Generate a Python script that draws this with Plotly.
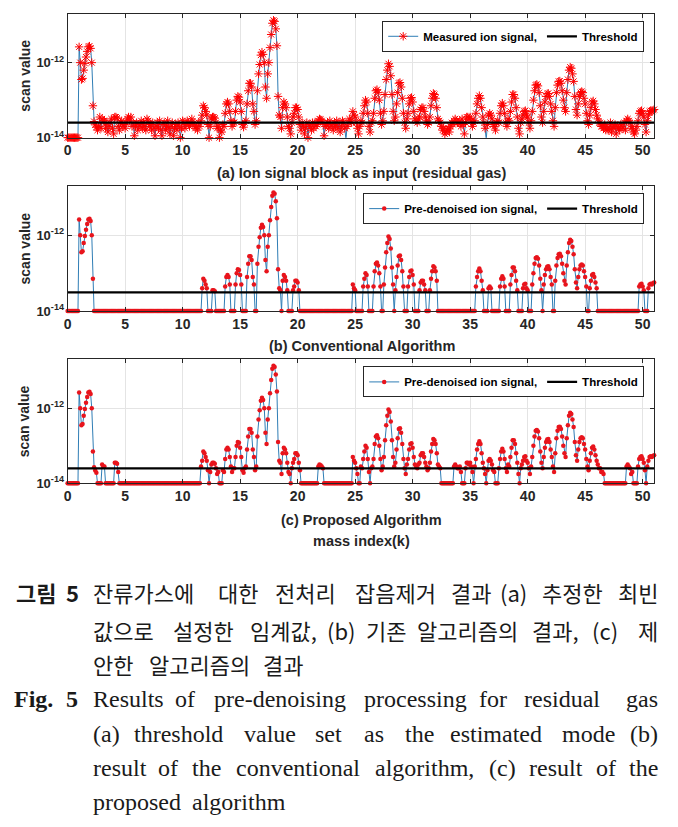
import numpy as np
import plotly.graph_objects as go

# ---------------- data (log10 of scan value, sampled every 0.1 mass unit from 0.0 to 51.0) -------------
mass_start = 0.0
mass_step = 0.1

measured_log = [
    -14, -14, -14, -14, -14, -14, -14, -14, -14, -14,
    -11.58, -12.0, -12.45, -12.42, -12.2, -12.02, -11.85, -11.7, -11.58, -11.56,
    -11.62, -12.0, -13.15, -13.57, -13.66, -13.72, -13.8, -13.7, -13.45, -13.75,
    -13.5, -13.55, -13.55, -13.75, -13.62, -13.85, -13.7, -13.6, -13.5, -13.75,
    -13.9, -13.45, -13.45, -13.48, -13.7, -13.8, -13.6, -13.55, -13.7, -13.65,
    -13.75, -13.6, -13.5, -13.45, -13.55, -13.45, -13.7, -13.6, -13.95, -13.7,
    -13.6, -13.8, -13.65, -13.7, -13.55, -13.75, -13.6, -13.7, -13.8, -13.5,
    -13.55, -13.7, -13.65, -13.8, -13.6, -13.75, -13.95, -13.7, -13.6, -13.75,
    -13.55, -13.8, -13.95, -13.65, -13.6, -13.8, -13.7, -13.55, -13.75, -13.9,
    -13.7, -13.6, -13.95, -13.75, -13.65, -13.8, -13.6, -13.7, -14.0, -13.75,
    -13.55, -13.6, -13.75, -13.65, -13.55, -13.6, -13.7, -13.6, -13.5, -13.65,
    -13.6, -13.75, -13.7, -13.8, -13.6, -13.7, -13.55, -13.4, -13.15, -13.2,
    -13.3, -13.4, -13.65, -14.0, -13.7, -13.5, -13.45, -13.45, -13.48, -13.6,
    -13.75, -13.7, -14.0, -13.8, -13.85, -13.65, -13.7, -13.35, -13.1, -13.05,
    -13.1, -13.3, -13.55, -13.7, -13.6, -13.6, -13.3, -13.0, -12.9, -12.92,
    -13.05, -13.3, -13.65, -13.72, -13.6, -13.55, -13.1, -12.75, -12.55, -12.55,
    -12.65, -13.1, -13.3, -13.65, -13.55, -12.75, -12.3, -12.05, -11.8, -11.72,
    -11.78, -12.0, -12.65, -12.95, -12.3, -12.0, -11.6, -11.25, -10.95, -10.87,
    -10.9, -11.1, -11.55, -12.9, -13.4, -13.45, -13.75, -13.2, -13.05, -13.1,
    -13.2, -13.45, -13.7, -13.75, -13.9, -13.6, -13.45, -13.35, -13.2, -13.2,
    -13.25, -13.45, -13.65, -13.8, -13.6, -13.7, -13.9, -13.75, -13.6, -14.0,
    -13.65, -13.7, -13.8, -13.6, -13.75, -13.6, -13.7, -13.65, -13.55, -13.5,
    -13.52, -13.55, -13.6, -13.95, -13.7, -13.65, -13.6, -13.75, -13.55, -13.7,
    -13.65, -13.8, -13.6, -13.7, -13.55, -13.75, -13.6, -13.85, -13.7, -13.55,
    -13.6, -13.75, -14.05, -13.7, -13.6, -13.5, -13.55, -13.6, -13.3, -13.4,
    -13.45, -13.6, -13.75, -13.9, -13.7, -13.55, -13.6, -13.35, -13.15, -13.0,
    -13.05, -13.35, -13.7, -13.85, -13.6, -13.55, -13.35, -12.95, -12.75, -12.72,
    -12.8, -13.0, -13.35, -13.65, -13.55, -13.3, -12.85, -12.45, -12.2, -12.03,
    -12.1, -12.35, -12.85, -13.3, -13.55, -13.45, -13.1, -12.8, -12.55, -12.53,
    -12.65, -12.95, -13.35, -13.6, -13.75, -13.5, -13.35, -13.1, -12.95, -12.93,
    -13.05, -13.3, -13.5, -13.55, -13.6, -13.5, -13.45, -13.25, -13.2, -13.2,
    -13.3, -13.45, -13.55, -13.65, -13.6, -13.45, -13.15, -12.95, -12.82, -12.85,
    -12.95, -13.2, -13.5, -13.55, -13.6, -13.7, -13.8, -13.75, -13.9, -13.85,
    -13.8, -13.75, -13.85, -13.7, -13.6, -13.65, -13.55, -13.5, -13.55, -13.6,
    -13.6, -13.55, -13.7, -13.5, -13.65, -13.9, -13.6, -13.45, -13.45, -13.5,
    -13.45, -13.55, -13.7, -13.6, -13.55, -13.35, -13.1, -12.95, -12.88, -12.95,
    -13.2, -13.45, -13.6, -13.75, -14.05, -13.65, -13.4, -13.35, -13.4, -13.5,
    -13.65, -13.7, -13.8, -13.6, -13.55, -13.6, -13.35, -13.15, -13.08, -13.15,
    -13.35, -13.6, -13.7, -13.5, -13.55, -13.3, -13.05, -12.85, -12.85, -12.95,
    -13.2, -13.45, -13.75, -13.9, -13.6, -13.5, -13.4, -13.3, -13.28, -13.4,
    -13.45, -13.6, -13.75, -13.55, -13.3, -13.0, -12.75, -12.6, -12.58, -12.62,
    -12.8, -13.15, -13.45, -13.6, -13.3, -13.05, -12.9, -12.83, -12.82, -12.9,
    -13.1, -13.3, -13.55, -13.7, -13.2, -12.8, -12.6, -12.5, -12.49, -12.55,
    -12.75, -13.0, -13.2, -13.3, -12.8, -12.45, -12.2, -12.12, -12.15, -12.3,
    -12.5, -12.9, -13.25, -13.4, -13.1, -12.9, -12.8, -12.77, -12.8, -12.95,
    -13.1, -13.35, -13.55, -13.65, -13.4, -13.2, -13.05, -13.02, -13.1, -13.25,
    -13.4, -13.5, -13.6, -13.6, -13.7, -13.7, -13.75, -13.65, -13.8, -13.7,
    -13.8, -13.75, -13.6, -13.85, -13.7, -13.75, -13.65, -13.9, -13.7, -13.75,
    -13.8, -13.65, -13.7, -13.75, -13.6, -13.8, -13.55, -13.5, -13.55, -13.6,
    -13.75, -13.7, -13.85, -13.9, -13.8, -13.7, -13.55, -13.35, -13.3, -13.28,
    -13.35, -13.45, -13.65, -13.85, -13.55, -13.4, -13.3, -13.28, -13.3, -13.27,
    -13.25,
]

conventional_log = [
    -14, -14, -14, -14, -14, -14, -14, -14, -14, -14,
    -11.58, -12.0, -12.45, -12.42, -12.2, -12.02, -11.85, -11.7, -11.58, -11.56,
    -11.62, -12.0, -13.15, -14, -14, -14, -14, -14, -14, -14,
    -14, -14, -14, -14, -14, -14, -14, -14, -14, -14,
    -14, -14, -14, -14, -14, -14, -14, -14, -14, -14,
    -14, -14, -14, -14, -14, -14, -14, -14, -14, -14,
    -14, -14, -14, -14, -14, -14, -14, -14, -14, -14,
    -14, -14, -14, -14, -14, -14, -14, -14, -14, -14,
    -14, -14, -14, -14, -14, -14, -14, -14, -14, -14,
    -14, -14, -14, -14, -14, -14, -14, -14, -14, -14,
    -14, -14, -14, -14, -14, -14, -14, -14, -14, -14,
    -14, -14, -14, -14, -14, -14, -14, -13.4, -13.15, -13.2,
    -13.3, -13.4, -14, -14, -14, -14, -13.45, -13.45, -13.48, -14,
    -14, -14, -14, -14, -14, -14, -14, -13.35, -13.1, -13.05,
    -13.1, -13.3, -14, -14, -14, -14, -13.3, -13.0, -12.9, -12.92,
    -13.05, -13.3, -14, -14, -14, -14, -13.1, -12.75, -12.55, -12.55,
    -12.65, -13.1, -13.3, -14, -14, -12.75, -12.3, -12.05, -11.8, -11.72,
    -11.78, -12.0, -12.65, -12.95, -12.3, -12.0, -11.6, -11.25, -10.95, -10.87,
    -10.9, -11.1, -11.55, -12.9, -13.4, -13.45, -14, -13.2, -13.05, -13.1,
    -13.2, -13.45, -14, -14, -14, -14, -13.45, -13.35, -13.2, -13.2,
    -13.25, -13.45, -14, -14, -14, -14, -14, -14, -14, -14,
    -14, -14, -14, -14, -14, -14, -14, -14, -14, -14,
    -14, -14, -14, -14, -14, -14, -14, -14, -14, -14,
    -14, -14, -14, -14, -14, -14, -14, -14, -14, -14,
    -14, -14, -14, -14, -14, -14, -14, -14, -13.3, -13.4,
    -13.45, -14, -14, -14, -14, -14, -14, -13.35, -13.15, -13.0,
    -13.05, -13.35, -14, -14, -14, -14, -13.35, -12.95, -12.75, -12.72,
    -12.8, -13.0, -13.35, -14, -14, -13.3, -12.85, -12.45, -12.2, -12.03,
    -12.1, -12.35, -12.85, -13.3, -14, -13.45, -13.1, -12.8, -12.55, -12.53,
    -12.65, -12.95, -13.35, -14, -14, -14, -13.35, -13.1, -12.95, -12.93,
    -13.05, -13.3, -14, -14, -14, -14, -13.45, -13.25, -13.2, -13.2,
    -13.3, -13.45, -14, -14, -14, -13.45, -13.15, -12.95, -12.82, -12.85,
    -12.95, -13.2, -14, -14, -14, -14, -14, -14, -14, -14,
    -14, -14, -14, -14, -14, -14, -14, -14, -14, -14,
    -14, -14, -14, -14, -14, -14, -14, -14, -14, -14,
    -14, -14, -14, -14, -14, -13.35, -13.1, -12.95, -12.88, -12.95,
    -13.2, -13.45, -14, -14, -14, -14, -13.4, -13.35, -13.4, -14,
    -14, -14, -14, -14, -14, -14, -13.35, -13.15, -13.08, -13.15,
    -13.35, -14, -14, -14, -14, -13.3, -13.05, -12.85, -12.85, -12.95,
    -13.2, -13.45, -14, -14, -14, -14, -13.4, -13.3, -13.28, -13.4,
    -13.45, -14, -14, -14, -13.3, -13.0, -12.75, -12.6, -12.58, -12.62,
    -12.8, -13.15, -13.45, -14, -13.3, -13.05, -12.9, -12.83, -12.82, -12.9,
    -13.1, -13.3, -14, -14, -13.2, -12.8, -12.6, -12.5, -12.49, -12.55,
    -12.75, -13.0, -13.2, -13.3, -12.8, -12.45, -12.2, -12.12, -12.15, -12.3,
    -12.5, -12.9, -13.25, -13.4, -13.1, -12.9, -12.8, -12.77, -12.8, -12.95,
    -13.1, -13.35, -14, -14, -13.4, -13.2, -13.05, -13.02, -13.1, -13.25,
    -13.4, -14, -14, -14, -14, -14, -14, -14, -14, -14,
    -14, -14, -14, -14, -14, -14, -14, -14, -14, -14,
    -14, -14, -14, -14, -14, -14, -14, -14, -14, -14,
    -14, -14, -14, -14, -14, -14, -14, -13.35, -13.3, -13.28,
    -13.35, -13.45, -14, -14, -14, -13.4, -13.3, -13.28, -13.3, -13.27,
    -13.25,
]

proposed_log = [
    -14, -14, -14, -14, -14, -14, -14, -14, -14, -14,
    -11.58, -12.0, -12.45, -12.42, -12.2, -12.02, -11.85, -11.7, -11.58, -11.56,
    -11.62, -12.0, -13.15, -13.57, -13.66, -13.72, -14, -14, -14, -14,
    -13.5, -13.55, -13.55, -14, -14, -14, -14, -14, -14, -14,
    -14, -13.45, -13.45, -13.48, -13.7, -14, -14, -14, -14, -14,
    -14, -14, -14, -14, -14, -14, -14, -14, -14, -14,
    -14, -14, -14, -14, -14, -14, -14, -14, -14, -14,
    -14, -14, -14, -14, -14, -14, -14, -14, -14, -14,
    -14, -14, -14, -14, -14, -14, -14, -14, -14, -14,
    -14, -14, -14, -14, -14, -14, -14, -14, -14, -14,
    -14, -14, -14, -14, -14, -14, -14, -14, -14, -14,
    -14, -14, -14, -14, -14, -14, -13.55, -13.4, -13.15, -13.2,
    -13.3, -13.4, -13.65, -14, -13.7, -13.5, -13.45, -13.45, -13.48, -13.6,
    -13.75, -13.7, -14, -14, -14, -13.65, -13.7, -13.35, -13.1, -13.05,
    -13.1, -13.3, -13.55, -13.7, -13.6, -13.6, -13.3, -13.0, -12.9, -12.92,
    -13.05, -13.3, -13.65, -13.72, -13.6, -13.55, -13.1, -12.75, -12.55, -12.55,
    -12.65, -13.1, -13.3, -13.65, -13.55, -12.75, -12.3, -12.05, -11.8, -11.72,
    -11.78, -12.0, -12.65, -12.95, -12.3, -12.0, -11.6, -11.25, -10.95, -10.87,
    -10.9, -11.1, -11.55, -12.9, -13.4, -13.45, -13.75, -13.2, -13.05, -13.1,
    -13.2, -13.45, -13.7, -13.75, -14, -13.6, -13.45, -13.35, -13.2, -13.2,
    -13.25, -13.45, -13.65, -14, -14, -14, -14, -14, -14, -14,
    -14, -14, -14, -14, -14, -14, -14, -14, -13.55, -13.5,
    -13.52, -13.55, -13.6, -14, -14, -14, -14, -14, -14, -14,
    -14, -14, -14, -14, -14, -14, -14, -14, -14, -14,
    -14, -14, -14, -14, -14, -14, -14, -14, -13.3, -13.4,
    -13.45, -13.6, -13.75, -14, -14, -13.55, -13.6, -13.35, -13.15, -13.0,
    -13.05, -13.35, -13.7, -14, -13.6, -13.55, -13.35, -12.95, -12.75, -12.72,
    -12.8, -13.0, -13.35, -13.65, -13.55, -13.3, -12.85, -12.45, -12.2, -12.03,
    -12.1, -12.35, -12.85, -13.3, -13.55, -13.45, -13.1, -12.8, -12.55, -12.53,
    -12.65, -12.95, -13.35, -13.6, -13.75, -13.5, -13.35, -13.1, -12.95, -12.93,
    -13.05, -13.3, -13.5, -13.55, -13.6, -13.5, -13.45, -13.25, -13.2, -13.2,
    -13.3, -13.45, -13.55, -13.65, -13.6, -13.45, -13.15, -12.95, -12.82, -12.85,
    -12.95, -13.2, -13.5, -13.55, -13.6, -14, -14, -14, -14, -14,
    -14, -14, -14, -14, -14, -14, -13.55, -13.5, -13.55, -13.6,
    -13.6, -13.55, -13.7, -14, -14, -14, -13.6, -13.45, -13.45, -13.5,
    -13.45, -13.55, -13.7, -14, -13.55, -13.35, -13.1, -12.95, -12.88, -12.95,
    -13.2, -13.45, -13.6, -13.75, -14, -13.65, -13.4, -13.35, -13.4, -13.5,
    -13.65, -13.7, -14, -14, -14, -13.6, -13.35, -13.15, -13.08, -13.15,
    -13.35, -13.6, -13.7, -13.5, -13.55, -13.3, -13.05, -12.85, -12.85, -12.95,
    -13.2, -13.45, -13.75, -14, -13.6, -13.5, -13.4, -13.3, -13.28, -13.4,
    -13.45, -13.6, -13.75, -13.55, -13.3, -13.0, -12.75, -12.6, -12.58, -12.62,
    -12.8, -13.15, -13.45, -13.6, -13.3, -13.05, -12.9, -12.83, -12.82, -12.9,
    -13.1, -13.3, -13.55, -13.7, -13.2, -12.8, -12.6, -12.5, -12.49, -12.55,
    -12.75, -13.0, -13.2, -13.3, -12.8, -12.45, -12.2, -12.12, -12.15, -12.3,
    -12.5, -12.9, -13.25, -13.4, -13.1, -12.9, -12.8, -12.77, -12.8, -12.95,
    -13.1, -13.35, -13.55, -13.65, -13.4, -13.2, -13.05, -13.02, -13.1, -13.25,
    -13.4, -13.5, -13.6, -13.6, -13.7, -13.7, -13.75, -14, -14, -14,
    -14, -14, -14, -14, -14, -14, -14, -14, -14, -14,
    -14, -14, -14, -14, -14, -14, -13.55, -13.5, -13.55, -13.6,
    -13.75, -13.7, -14, -14, -14, -14, -13.55, -13.35, -13.3, -13.28,
    -13.35, -13.45, -13.65, -14, -13.55, -13.4, -13.3, -13.28, -13.3, -13.27,
    -13.25,
]

threshold_a = 2.5e-14
threshold_b = 3.1e-14
threshold_c = 2.5e-14

x_range = [0, 51]
x_ticks = [0, 5, 10, 15, 20, 25, 30, 35, 40, 45, 50]
y_range_log = [-14, -10.7]
y_ticks = [1e-14, 1e-12]
y_tick_text = ["10<sup>-14</sup>", "10<sup>-12</sup>"]

panel_titles = ["(a) Ion signal block as input (residual gas)",
                "(b) Conventional Algorithm",
                "(c) Proposed Algorithm"]
series_names = ["Measured ion signal,", "Pre-denoised ion signal,", "Pre-denoised ion signal,"]
threshold_name = "Threshold"
y_title = "scan value"
x_title = "mass index(k)"

# ---------------- layout helpers ----------------
W, H = 678, 827
def px_x(p):
    return p / W
def px_y(p):
    return 1 - p / H

mass = np.round(mass_start + mass_step * np.arange(len(measured_log)), 1)

LINE_BLUE = "#2f7db5"
AX = "#262626"
GRID = "#e4e4e4"
SANS = "Liberation Sans, Arial, sans-serif"

panels = [
    dict(vals=measured_log, thr=threshold_a, top=14, bottom=139, legend_top=21,
         title_y=175, symbol="asterisk-open", size=7),
    dict(vals=conventional_log, thr=threshold_b, top=188, bottom=314, legend_top=195,
         title_y=349, symbol="circle", size=4.5),
    dict(vals=proposed_log, thr=threshold_c, top=363, bottom=488, legend_top=370,
         title_y=525, symbol="circle", size=4.5),
]

fig = go.Figure()
layout_axes = {}
annotations = []

for i, p in enumerate(panels):
    n = "" if i == 0 else str(i + 1)
    xa, ya = "x" + n, "y" + n
    leg = "legend" + n
    yvals = np.power(10.0, np.array(p["vals"], dtype=float))
    if p["symbol"] == "asterisk-open":
        marker = dict(symbol="asterisk-open", size=p["size"], color="red",
                      line=dict(color="red", width=1))
    else:
        marker = dict(symbol="circle", size=p["size"], color="#e8141c",
                      line=dict(width=0))
    fig.add_trace(go.Scatter(
        x=mass, y=yvals, mode="lines+markers", name=series_names[i],
        line=dict(color=LINE_BLUE, width=1), marker=marker,
        xaxis=xa, yaxis=ya, legend=leg, cliponaxis=False, showlegend=True))
    fig.add_trace(go.Scatter(
        x=x_range, y=[p["thr"], p["thr"]], mode="lines", name=threshold_name,
        line=dict(color="black", width=2.2),
        xaxis=xa, yaxis=ya, legend=leg, showlegend=True))

    dom_y = [px_y(p["bottom"]), px_y(p["top"])]
    layout_axes["xaxis" + n] = dict(
        domain=[px_x(64), px_x(654)], range=x_range, anchor=ya,
        tickvals=x_ticks, ticks="inside", ticklen=4, tickcolor=AX,
        showline=True, linecolor=AX, linewidth=1, mirror="allticks",
        showgrid=True, gridcolor=GRID, gridwidth=1, zeroline=False,
        tickfont=dict(family=SANS, size=14, color=AX, weight="bold"))
    layout_axes["yaxis" + n] = dict(
        domain=dom_y, type="log", range=y_range_log, anchor=xa,
        tickvals=y_ticks, ticktext=y_tick_text, ticks="inside", ticklen=4, tickcolor=AX,
        showline=True, linecolor=AX, linewidth=1, mirror="allticks",
        showgrid=True, gridcolor=GRID, gridwidth=1, zeroline=False,
        tickfont=dict(family=SANS, size=13, color=AX, weight="bold"))
    layout_axes[leg] = dict(
        orientation="h", x=px_x(644), xanchor="right", y=px_y(p["legend_top"]), yanchor="top",
        bgcolor="white", bordercolor=AX, borderwidth=1,
        font=dict(family=SANS, size=11.5, color="black", weight="bold"),
        itemwidth=30, tracegroupgap=0)

    annotations.append(dict(
        text=y_title, x=px_x(21), y=px_y((p["top"] + p["bottom"]) / 2),
        xref="paper", yref="paper", textangle=-90, showarrow=False,
        xanchor="center", yanchor="middle",
        font=dict(family=SANS, size=14, color=AX, weight="bold")))
    annotations.append(dict(
        text=panel_titles[i], x=px_x(360), y=px_y(p["title_y"]),
        xref="paper", yref="paper", showarrow=False, xanchor="center", yanchor="middle",
        font=dict(family=SANS, size=14.5, color=AX, weight="bold")))

annotations.append(dict(
    text=x_title, x=px_x(360), y=px_y(546), xref="paper", yref="paper",
    showarrow=False, xanchor="center", yanchor="middle",
    font=dict(family=SANS, size=14.5, color=AX, weight="bold")))

# ---------------- caption (justified: words placed individually) ----------------
KO = "Noto Sans CJK KR"
EN = "Liberation Serif, DejaVu Serif, serif"
caption_lines = [
    (598, KO, 22, [("그림", 31.7, "center", True), ("5", 68.7, "center", True),
                   ("잔류가스에", 88, "left", False), ("대한", 235, "center", False),
                   ("전처리", 303.5, "center", False), ("잡음제거", 393.7, "center", False),
                   ("결과", 469.8, "center", False), ("(a)", 512.2, "center", False),
                   ("추정한", 572, "center", False), ("최빈", 660, "right", False)]),
    (636, KO, 22, [("값으로", 88, "left", False), ("설정한", 200.2, "center", False),
                   ("임계값,", 280.7, "center", False), ("(b)", 339.4, "center", False),
                   ("기존", 383.9, "center", False), ("알고리즘의", 466.5, "center", False),
                   ("결과,", 554.6, "center", False), ("(c)", 604.6, "center", False),
                   ("제", 660, "right", False)]),
    (670, KO, 22, [("안한", 88, "left", False), ("알고리즘의", 197, "center", False),
                   ("결과", 280.7, "center", False)]),
    (706, EN, 24, [("Fig.", 8, "left", True), ("5", 68.7, "center", True),
                   ("Results", 88, "left", False), ("of", 181.7, "center", False),
                   ("pre-denoising", 277.4, "center", False), ("processing", 414.3, "center", False),
                   ("for", 491.5, "center", False), ("residual", 561.2, "center", False),
                   ("gas", 660, "right", False)]),
    (741, EN, 24, [("(a)", 88, "left", False), ("threshold", 175.2, "center", False),
                   ("value", 267.6, "center", False), ("set", 326.3, "center", False),
                   ("as", 372, "center", False), ("the", 417.6, "center", False),
                   ("estimated", 494.8, "center", False), ("mode", 588.3, "center", False),
                   ("(b)", 660, "right", False)]),
    (775, EN, 24, [("result", 88, "left", False), ("of", 165.4, "center", False),
                   ("the", 203.5, "center", False), ("conventional", 295.9, "center", False),
                   ("algorithm,", 423, "center", False), ("(c)", 501.3, "center", False),
                   ("result", 555.6, "center", False), ("of", 605.7, "center", False),
                   ("the", 660, "right", False)]),
    (810, EN, 24, [("proposed", 88, "left", False), ("algorithm", 236.1, "center", False)]),
]
for (yc, fam, fs, words) in caption_lines:
    for (w, xp, anchor, bold) in words:
        annotations.append(dict(
            text=w, x=px_x(xp), y=px_y(yc), xref="paper", yref="paper",
            showarrow=False, xanchor=anchor, yanchor="middle",
            font=dict(family=fam, size=fs, color="#1a1a1a",
                      weight="bold" if bold else "normal")))

fig.update_layout(
    width=W, height=H, autosize=False,
    margin=dict(l=0, r=0, t=0, b=0),
    paper_bgcolor="white", plot_bgcolor="white",
    annotations=annotations,
    **layout_axes,
)

fig.write_html("out.html", config={"displayModeBar": False},
               post_script="document.body.style.margin='0px';")
